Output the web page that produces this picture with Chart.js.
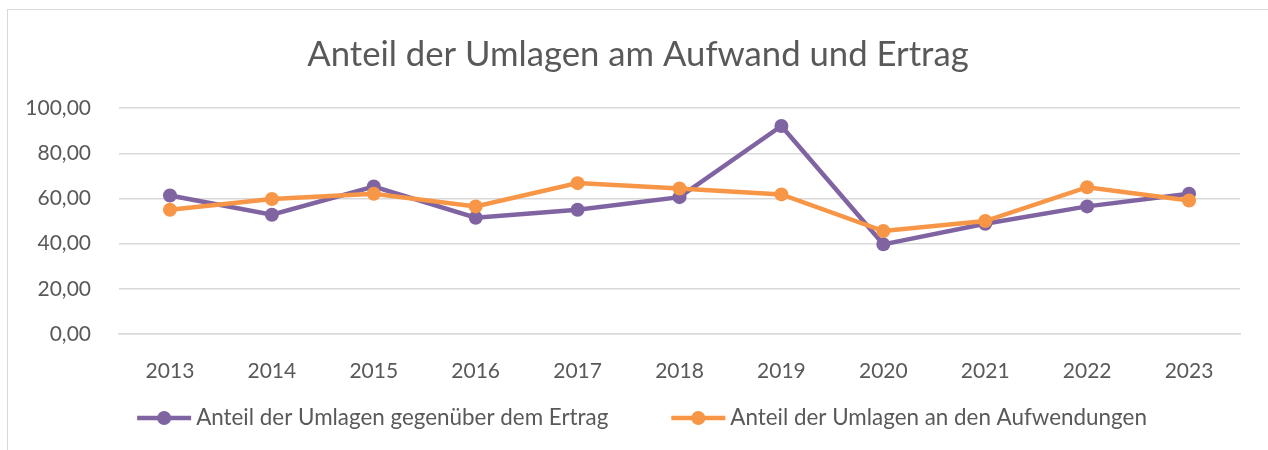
<!DOCTYPE html>
<html>
<head>
<meta charset="utf-8">
<script src="https://cdn.jsdelivr.net/npm/chart.js@4"></script>
<style>
  html, body { margin: 0; padding: 0; background: #fff; }
  #wrap { position: relative; width: 1268px; height: 450px; overflow: hidden; }
  #frame { position: absolute; left: 7px; top: 9px; width: 1300px; height: 500px;
           border-left: 1.5px solid #d9d9d9; border-top: 1.5px solid #d9d9d9; }
  canvas { position: absolute; left: 0; top: 0; }
</style>
</head>
<body>
<div id="wrap">
  <div id="frame"></div>
  <canvas id="umlagen" width="1268" height="450"></canvas>
</div>
<script>
// DATEN
const years = ['2013', '2014', '2015', '2016', '2017', '2018', '2019', '2020', '2021', '2022', '2023'];
const anteilErtrag = [61.3, 52.8, 65.3, 51.5, 55.0, 60.6, 92.1, 39.7, 48.8, 56.5, 62.1];
const anteilAufwand = [55.0, 59.8, 62.1, 56.5, 66.8, 64.4, 61.8, 45.6, 50.0, 65.0, 59.1];
const seriesNames = ['Anteil der Umlagen gegenüber dem Ertrag', 'Anteil der Umlagen an den Aufwendungen'];
const seriesColors = ['#8064A2', '#F79646'];
const yMin = 0, yMax = 100, yStep = 20;

const fontFamily = 'Lato, "Open Sans", sans-serif';
const textColor = '#595959';
const gridColor = '#d9d9d9';

// LEGENDE (Linie mit Punkt, wie in Excel)
const excelLegend = {
    id: 'excelLegend',
    afterDraw(chart) {
        const ctx = chart.ctx;
        const y = 418;
        const symbolW = 54, gap = 5, itemGap = 63;
        ctx.save();
        ctx.font = '22.4px ' + fontFamily;
        let widths = seriesNames.map(n => symbolW + gap + ctx.measureText(n).width);
        let total = widths.reduce((a, b) => a + b, 0) + itemGap * (widths.length - 1);
        let x = 642 - total / 2;
        seriesNames.forEach((name, i) => {
            ctx.strokeStyle = seriesColors[i];
            ctx.fillStyle = seriesColors[i];
            ctx.lineWidth = 4.5;
            ctx.beginPath();
            ctx.moveTo(x, y);
            ctx.lineTo(x + symbolW, y);
            ctx.stroke();
            ctx.beginPath();
            ctx.arc(x + symbolW / 2, y, 7, 0, Math.PI * 2);
            ctx.fill();
            ctx.fillStyle = textColor;
            ctx.textBaseline = 'middle';
            ctx.textAlign = 'left';
            ctx.fillText(name, x + symbolW + gap, y);
            x += widths[i] + itemGap;
        });
        ctx.restore();
    }
};

const ctx = document.getElementById('umlagen');

new Chart(ctx, {
    type: 'line',
    data: {
        labels: years,
        datasets: [{
            label: seriesNames[0],
            data: anteilErtrag,
            borderColor: seriesColors[0],
            backgroundColor: seriesColors[0],
            borderWidth: 4.5,
            pointRadius: 7,
            pointBorderWidth: 0,
            tension: 0,
            order: 1
        }, {
            label: seriesNames[1],
            data: anteilAufwand,
            borderColor: seriesColors[1],
            backgroundColor: seriesColors[1],
            borderWidth: 4.5,
            pointRadius: 7,
            pointBorderWidth: 0,
            tension: 0,
            order: 0
        }]
    },
    options: {
        responsive: false,
        animation: false,
        layout: {
            padding: { left: 8, right: 0, top: 0, bottom: 61 }
        },
        plugins: {
            legend: { display: false },
            tooltip: { enabled: false },
            title: {
                display: true,
                text: 'Anteil der Umlagen am Aufwand und Ertrag',
                color: textColor,
                font: { family: fontFamily, size: 34.7, weight: 'normal' },
                padding: { top: 34, bottom: 32.5 }
            }
        },
        scales: {
            x: {
                offset: true,
                grid: { display: false },
                border: { display: true, color: gridColor, width: 1.5 },
                ticks: {
                    color: textColor,
                    font: { family: fontFamily, size: 21 },
                    padding: 17,
                    maxRotation: 0
                },
                afterFit: function(scale) { scale.height = 55; }
            },
            y: {
                min: yMin,
                max: yMax,
                grid: { color: gridColor, lineWidth: 1.5, drawTicks: false },
                border: { display: false },
                ticks: {
                    stepSize: yStep,
                    color: textColor,
                    font: { family: fontFamily, size: 21 },
                    padding: 28,
                    callback: v => v.toFixed(2).replace('.', ',')
                },
                afterFit: function(scale) { scale.width = 111; }
            },
            // leere rechte Achse, nur als Rand rechts vom Plot
            rand: {
                type: 'linear',
                position: 'right',
                display: true,
                grid: { display: false },
                border: { display: false },
                ticks: { display: false },
                afterFit: function(scale) { scale.width = 28; }
            }
        }
    },
    plugins: [excelLegend]
});
</script>
</body>
</html>
